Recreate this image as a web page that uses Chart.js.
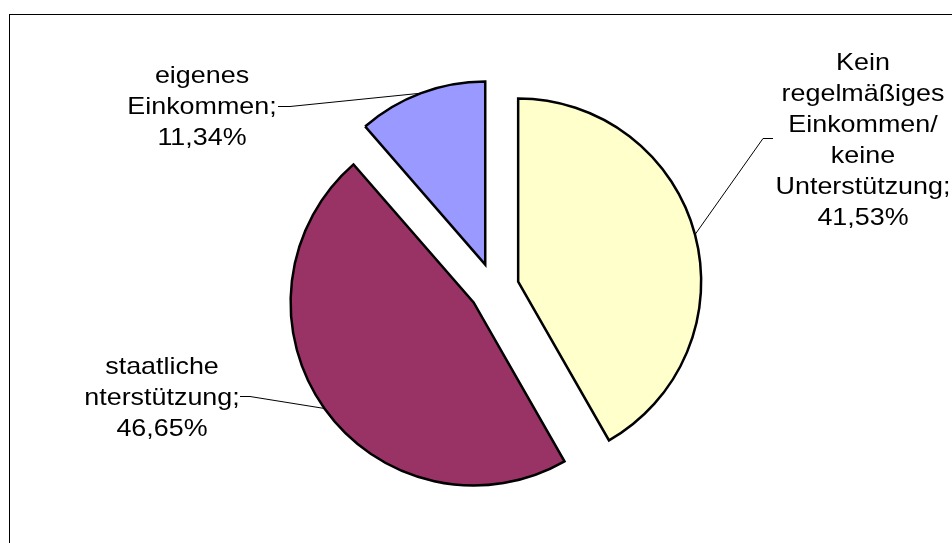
<!DOCTYPE html>
<html>
<head>
<meta charset="utf-8">
<script src="https://cdn.jsdelivr.net/npm/chart.js@4.4.0/dist/chart.umd.min.js"></script>
<style>
  html, body { margin: 0; padding: 0; background: #ffffff; }
  #wrap { position: relative; width: 952px; height: 543px; }
</style>
</head>
<body>
<div id="wrap"><canvas id="c"></canvas></div>
<script>
// ---- data ----
const categories = [
  ["Kein", "regelmäßiges", "Einkommen/", "keine", "Unterstützung;"],
  ["staatliche", "nterstützung;"],
  ["eigenes", "Einkommen;"]
];
const values = [41.53, 46.65, 11.34];
const valueLabels = ["41,53%", "46,65%", "11,34%"];
const colors = ["#FFFFCC", "#993366", "#9999FF"];

// styling / placement
const EXPLODE = 25; // px each slice is pulled out
const labelLayout = [
  { cx: 863, y0: 63,  start: [773, 138], elbow: [763, 138] },
  { cx: 162, y0: 367, start: [240, 396], elbow: [250, 396] },
  { cx: 202, y0: 76,  start: [278, 106], elbow: [290, 106] }
];

function explodeShift(arc) {
  const p = arc.getProps(['startAngle', 'endAngle']);
  const mid = (p.startAngle + p.endAngle) / 2;
  return [Math.cos(mid) * EXPLODE, Math.sin(mid) * EXPLODE, mid];
}

const labelPlugin = {
  id: 'excelLabels',
  beforeDraw(chart) {
    const ctx = chart.ctx;
    ctx.save();
    ctx.fillStyle = '#ffffff';
    ctx.fillRect(0, 0, chart.width, chart.height);
    ctx.strokeStyle = '#000000';
    ctx.lineWidth = 1;
    ctx.strokeRect(9.5, 14.5, 2000, 2000);
    ctx.restore();
  },
  beforeDatasetDraw(chart, args) {
    const ctx = chart.ctx;
    const meta = chart.getDatasetMeta(args.index);
    meta.data.forEach(arc => {
      const [dx, dy] = explodeShift(arc);
      ctx.save();
      ctx.translate(dx, dy);
      arc.draw(ctx);
      ctx.restore();
    });
    return false;
  },
  afterDraw(chart) {
    const ctx = chart.ctx;
    const meta = chart.getDatasetMeta(0);
    ctx.save();
    meta.data.forEach((arc, i) => {
      const p = arc.getProps(['x', 'y', 'outerRadius']);
      const [dx, dy, mid] = explodeShift(arc);
      const ex = p.x + dx + Math.cos(mid) * p.outerRadius;
      const ey = p.y + dy + Math.sin(mid) * p.outerRadius;
      const L = labelLayout[i];
      ctx.strokeStyle = '#000000';
      ctx.lineWidth = 1;
      ctx.beginPath();
      ctx.moveTo(L.start[0], L.start[1] + 0.5);
      ctx.lineTo(L.elbow[0], L.elbow[1] + 0.5);
      ctx.lineTo(ex, ey);
      ctx.stroke();
      const lines = categories[i].concat([valueLabels[i]]);
      ctx.fillStyle = '#000000';
      ctx.font = "24px 'Liberation Sans', Arial, sans-serif";
      ctx.textAlign = 'center';
      ctx.textBaseline = 'middle';
      lines.forEach((t, k) => {
        ctx.save();
        ctx.translate(L.cx, L.y0 + k * 31);
        ctx.scale(1.12, 1);
        ctx.fillText(t, 0, 0);
        ctx.restore();
      });
    });
    ctx.restore();
  }
};

new Chart(document.getElementById('c'), {
  type: 'pie',
  data: {
    labels: categories.map(c => c.join(' ')),
    datasets: [{
      data: values,
      backgroundColor: colors,
      borderColor: '#000000',
      borderWidth: 2.5,
      borderJoinStyle: 'miter',
      offset: 0,
      hoverOffset: 0
    }]
  },
  options: {
    responsive: true,
    maintainAspectRatio: false,
    animation: false,
    events: [],
    radius: 183,
    layout: { padding: { left: 36, right: 0, top: 33, bottom: 0 } },
    plugins: {
      legend: { display: false },
      tooltip: { enabled: false }
    }
  },
  plugins: [labelPlugin]
});
</script>
</body>
</html>
